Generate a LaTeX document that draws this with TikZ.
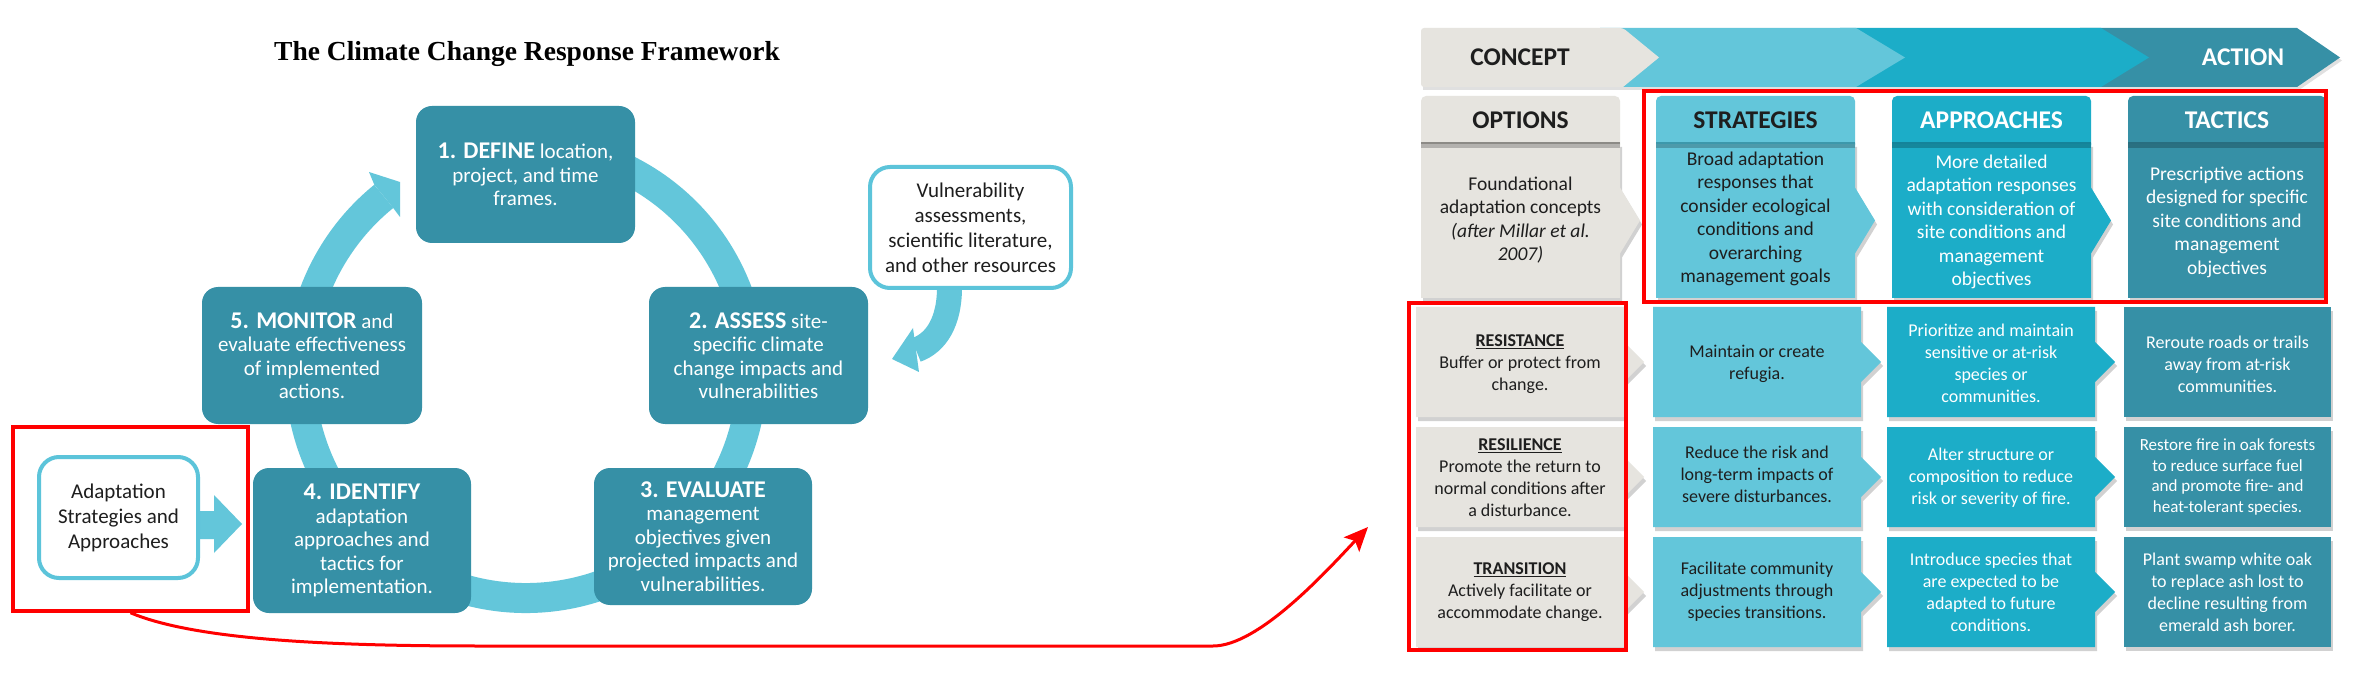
\documentclass[tikz,border=0pt]{standalone}
\usepackage{fontspec}
\setmainfont{Carlito}
\newfontfamily\titlefont{Liberation Serif}
\usetikzlibrary{arrows.meta}
\definecolor{cgray}{HTML}{E6E4DF}
\definecolor{clight}{HTML}{63C6DA}
\definecolor{cmed}{HTML}{1CADC8}
\definecolor{cdark}{HTML}{3690A6}
\definecolor{ringc}{HTML}{63C6DA}
\definecolor{ctext}{HTML}{1E1E1E}
\definecolor{cborder}{HTML}{5CC4DA}
\definecolor{sepgray}{HTML}{8C8A86}
\definecolor{seplight}{HTML}{3C98AB}
\definecolor{sepmed}{HTML}{14839A}
\definecolor{sepdark}{HTML}{286E80}
\newcommand{\setfs}[2]{\fontsize{#1pt}{#2pt}\selectfont}
\newcommand{\bighead}[1]{{\fontsize{24pt}{23.5pt}\selectfont\bfseries #1}}
\newcommand{\chevcell}[6]{%
  \fill[black,opacity=.18] ({#1+2},{#2+4}) -- ({#3+2},{#2+4}) -- ({#3+2},{(#2+#4)/2-#6+4}) -- ({#3+22},{(#2+#4)/2+4}) -- ({#3+2},{(#2+#4)/2+#6+4}) -- ({#3+2},{#4+4}) -- ({#1+2},{#4+4}) -- cycle;
  \fill[#5] (#1,#2) -- (#3,#2) -- (#3,{(#2+#4)/2-#6}) -- ({#3+20},{(#2+#4)/2}) -- (#3,{(#2+#4)/2+#6}) -- (#3,#4) -- (#1,#4) -- cycle;}
\newcommand{\flatcell}[5]{%
  \fill[black,opacity=.18] ({#1+2},{#2+4}) rectangle ({#3+2},{#4+4});
  \fill[#5] (#1,#2) rectangle (#3,#4);}
\newcommand{\hdrtop}[4]{%
  \fill[#3, rounded corners=5pt] (#1,96) rectangle (#2,150);
  \fill[black,opacity=.22] (#1,143) rectangle (#2,148);
  \draw[#4, line width=2pt] (#1,143) -- (#2,143);}
\begin{document}
\begin{tikzpicture}[x=1pt,y=-1pt,
  cyclebox/.style={fill=cdark, rounded corners=16pt, text=white, align=center, font=\setfs{21}{23.5}, inner sep=0pt},
  outlinebox/.style={draw=cborder, line width=4pt, fill=white, rounded corners=20pt, text=ctext, align=center, font=\setfs{21}{25}, inner sep=0pt},
  hdrtext/.style={font=\setfs{25.5}{28}\bfseries},
  bodytext/.style={align=center, font=\setfs{19.5}{23.5}},
  celltext/.style={align=center, font=\setfs{18}{22}},
  redbox/.style={draw=red, line width=3.5pt, inner sep=0pt},
  redarrow/.style={draw=red, line width=3pt, -{Stealth[length=24pt,width=21pt,inset=5pt]}},
]
\useasboundingbox (0,0) rectangle (2380,684);
\fill[white] (0,0) rectangle (2380,684);

% ---------- title ----------
\node[font=\titlefont\bfseries\setfs{27.5}{30}, anchor=base, text=black] (title) at (527,61) {The Climate Change Response Framework};

% ---------- cycle ring ----------
\draw[ringc, line width=30pt] (526,372) ++(-65:226) arc[start angle=-65, end angle=231, radius=226];
\fill[ringc] (374.3,184.7) -- (369,172) -- (400,182) -- (400,217) -- (393.2,208) -- cycle;

% vulnerability arrow
\draw[ringc, line width=25pt] (949.5,285) .. controls (950,322) and (936,343) .. (916,350);
\fill[ringc] (913,328) -- (892,359) -- (919,372) -- cycle;
% adaptation arrow
\fill[ringc] (196,511) -- (214,511) -- (214,495) -- (242,524) -- (214,553) -- (214,539) -- (196,539) -- cycle;

% ---------- cycle boxes ----------
\node[cyclebox, minimum width=219pt, minimum height=137pt] (define) at (525.5,174.5) {\bighead{1. DEFINE} location,\\project, and time\\frames.};
\node[cyclebox, minimum width=219pt, minimum height=137pt] (assess) at (758.5,355.5) {\bighead{2. ASSESS} site-\\specific climate\\change impacts and\\vulnerabilities};
\node[cyclebox, minimum width=218pt, minimum height=137pt] (evaluate) at (703,536.5) {\bighead{3. EVALUATE}\\management\\objectives given\\projected impacts and\\vulnerabilities.};
\node[cyclebox, minimum width=218pt, minimum height=145pt] (identify) at (362,540.5) {\bighead{4. IDENTIFY}\\adaptation\\approaches and\\tactics for\\implementation.};
\node[cyclebox, minimum width=220pt, minimum height=137pt] (monitor) at (312,355.5) {\bighead{5. MONITOR} and\\evaluate effectiveness\\of implemented\\actions.};
\node[outlinebox, minimum width=201pt, minimum height=121pt] (vuln) at (970.5,227.5) {Vulnerability\\assessments,\\scientific literature,\\and other resources};
\node[outlinebox, minimum width=159pt, minimum height=121pt] (adapt) at (118.5,517.5) {Adaptation\\Strategies and\\Approaches};

% ---------- top chevron bar ----------
\fill[black,opacity=.12] (1423,31) -- (2299,31) -- (2342,60.5) -- (2299,90) -- (1423,90) -- cycle;
\fill[cdark] (2080,28) -- (2297,28) -- (2340,57.5) -- (2297,87) -- (2080,87) -- cycle;
\fill[cmed] (1840,28) -- (2101,28) -- (2149,57.5) -- (2101,87) -- (1840,87) -- cycle;
\fill[clight] (1600,28) -- (1856,28) -- (1905,57.5) -- (1856,87) -- (1600,87) -- cycle;
\fill[cgray, rounded corners=3pt] (1421,28) -- (1623,28) [sharp corners] -- (1659,57.5) -- (1623,87) [rounded corners=3pt] -- (1421,87) -- cycle;
\node[hdrtext, text=ctext] (concept) at (1520,57) {CONCEPT};
\node[hdrtext, text=white] (action) at (2243,57) {ACTION};

% ---------- column headers ----------
\chevcell{1421}{143}{1620}{298}{cgray}{33}
\chevcell{1656}{143}{1855}{298}{clight}{33}
\chevcell{1892}{143}{2091}{298}{cmed}{33}
\flatcell{2128}{143}{2326}{298}{cdark}
\hdrtop{1421}{1620}{cgray}{sepgray}
\hdrtop{1656}{1855}{clight}{seplight}
\hdrtop{1892}{2091}{cmed}{sepmed}
\hdrtop{2128}{2326}{cdark}{sepdark}
\node[hdrtext, text=ctext] (hopt) at (1520.5,120) {OPTIONS};
\node[hdrtext, text=ctext] (hstr) at (1755.5,120) {STRATEGIES};
\node[hdrtext, text=white] (happ) at (1991.5,120) {APPROACHES};
\node[hdrtext, text=white] (htac) at (2227,120) {TACTICS};
\node[bodytext, text=ctext] (bopt) at (1520.5,220) {Foundational\\adaptation concepts\\\textit{(after Millar et al.}\\\textit{2007)}};
\node[bodytext, text=ctext] (bstr) at (1755.5,219) {Broad adaptation\\responses that\\consider ecological\\conditions and\\overarching\\management goals};
\node[bodytext, text=white] (bapp) at (1991.5,222) {More detailed\\adaptation responses\\with consideration of\\site conditions and\\management\\objectives};
\node[bodytext, text=white] (btac) at (2227,222) {Prescriptive actions\\designed for specific\\site conditions and\\management\\objectives};

% ---------- rows ----------
% row 1
\chevcell{1416}{307}{1624}{417}{cgray}{20}
\chevcell{1653}{307}{1861}{417}{clight}{20}
\chevcell{1887}{307}{2095}{417}{cmed}{20}
\flatcell{2124}{307}{2331}{417}{cdark}
% row 2
\chevcell{1416}{427}{1624}{527}{cgray}{20}
\chevcell{1653}{427}{1861}{527}{clight}{20}
\chevcell{1887}{427}{2095}{527}{cmed}{20}
\flatcell{2124}{427}{2331}{527}{cdark}
% row 3
\chevcell{1416}{537}{1624}{647}{cgray}{20}
\chevcell{1653}{537}{1861}{647}{clight}{20}
\chevcell{1887}{537}{2095}{647}{cmed}{20}
\flatcell{2124}{537}{2331}{647}{cdark}

\node[celltext, text=ctext] (r1o) at (1520,364) {\underline{\textbf{RESISTANCE}}\\Buffer or protect from\\change.};
\node[celltext, text=ctext] (r1s) at (1757,364) {Maintain or create\\refugia.};
\node[celltext, text=white] (r1a) at (1991,363) {Prioritize and maintain\\sensitive or at-risk\\species or\\communities.};
\node[celltext, text=white] (r1t) at (2227.5,364) {Reroute roads or trails\\away from at-risk\\communities.};

\node[celltext, text=ctext] (r2o) at (1520,478) {\underline{\textbf{RESILIENCE}}\\Promote the return to\\normal conditions after\\a disturbance.};
\node[celltext, text=ctext] (r2s) at (1757,474) {Reduce the risk and\\long-term impacts of\\severe disturbances.};
\node[celltext, text=white] (r2a) at (1991,478) {Alter structure or\\composition to reduce\\risk or severity of fire.};
\node[celltext, text=white, font=\setfs{17}{20.5}] (r2t) at (2227.5,477) {Restore fire in oak forests\\to reduce surface fuel\\and promote fire- and\\heat-tolerant species.};

\node[celltext, text=ctext] (r3o) at (1520,592) {\underline{\textbf{TRANSITION}}\\Actively facilitate or\\accommodate change.};
\node[celltext, text=ctext] (r3s) at (1757,592) {Facilitate community\\adjustments through\\species transitions.};
\node[celltext, text=white] (r3a) at (1991,592) {Introduce species that\\are expected to be\\adapted to future\\conditions.};
\node[celltext, text=white] (r3t) at (2227.5,592) {Plant swamp white oak\\to replace ash lost to\\decline resulting from\\emerald ash borer.};

% ---------- red highlight boxes ----------
\node[redbox, minimum width=235pt, minimum height=184pt] (redA) at (130.5,519) {};
\node[redbox, minimum width=217pt, minimum height=347pt] (redB) at (1517.5,476.5) {};
\node[redbox, minimum width=682pt, minimum height=211pt] (redC) at (1985,196.5) {};
\coordinate (tipR) at (1368,527);
\draw[redarrow] (redA.south) .. controls (195,640) and (330,646) .. (480,646) -- (1213,646) .. controls (1258,646) and (1324,574) .. (tipR);
\end{tikzpicture}
\end{document}
